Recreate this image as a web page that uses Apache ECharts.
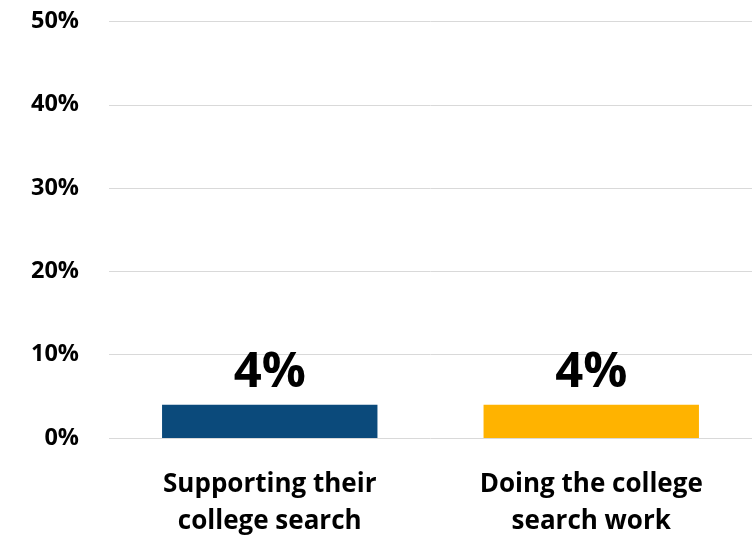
<!DOCTYPE html>
<html>
<head>
<meta charset="utf-8">
<script src="https://cdn.jsdelivr.net/npm/echarts@6/dist/echarts.min.js"></script>
<style>
  html, body { margin: 0; padding: 0; background: #fff; }
  #chart { width: 752px; height: 535px; }
</style>
</head>
<body>
<div id="chart"></div>
<script>
// Share of respondents for each role in the college search
const categories = ['Supporting their\ncollege search', 'Doing the college\nsearch work'];
const values = [4, 4];
const barColors = ['#0B4A7B', '#FFB300'];
const yTicks = [0, 10, 20, 30, 40, 50];

const FONT = '"Open Sans", Lato, sans-serif';

const chart = echarts.init(document.getElementById('chart'));
chart.setOption({
  animation: false,
  grid: {
    left: 109, right: 0, top: 21.5, bottom: 97,
    containLabel: false,
    outerBoundsMode: 'none'
  },
  xAxis: {
    type: 'category',
    data: categories,
    axisLine: { show: false },
    axisTick: { show: false },
    axisLabel: {
      color: '#000',
      fontFamily: FONT,
      fontWeight: 'bold',
      fontSize: 26,
      lineHeight: 37,
      margin: 28
    }
  },
  yAxis: {
    type: 'value',
    min: yTicks[0],
    max: yTicks[yTicks.length - 1],
    interval: 10,
    axisLine: { show: false },
    axisTick: { show: false },
    splitLine: { lineStyle: { color: '#D9D9D9', width: 1 } },
    axisLabel: {
      color: '#000',
      fontFamily: FONT,
      fontWeight: 'bold',
      fontSize: 23.5,
      margin: 30,
      formatter: v => v + '%'
    }
  },
  series: [{
    type: 'bar',
    barWidth: '67%',
    data: values.map((v, i) => ({ value: v, itemStyle: { color: barColors[i] } })),
    label: {
      show: true,
      position: 'top',
      distance: 7,
      color: '#000',
      fontFamily: FONT,
      fontWeight: 'bold',
      fontSize: 49,
      formatter: p => p.value + '%'
    }
  }]
});
</script>
</body>
</html>
